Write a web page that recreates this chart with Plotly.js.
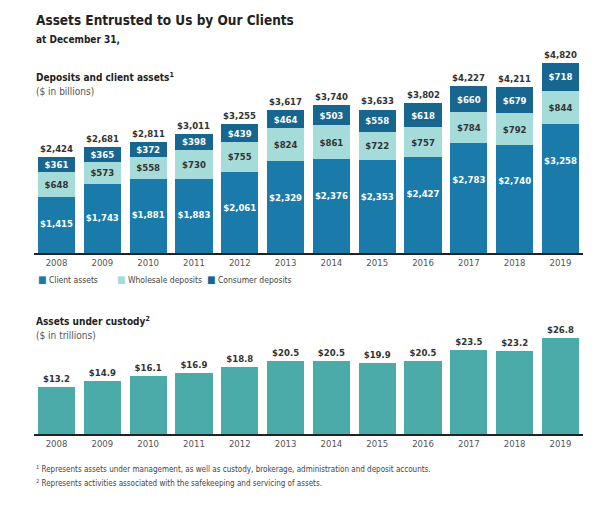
<!DOCTYPE html>
<html>
<head>
<meta charset="utf-8">
<script src="https://cdn.plot.ly/plotly-3.0.1.min.js"></script>
<style>html,body{margin:0;padding:0;background:#fff;}#chart{width:605px;height:508px;}</style>
</head>
<body>
<div id="chart"></div>
<script>
// ---- Data ----
const years = ['2008','2009','2010','2011','2012','2013','2014','2015','2016','2017','2018','2019'];
const clientAssets = [1415, 1743, 1881, 1883, 2061, 2329, 2376, 2353, 2427, 2783, 2740, 3258];
const wholesaleDeposits = [648, 573, 558, 730, 755, 824, 861, 722, 757, 784, 792, 844];
const consumerDeposits = [361, 365, 372, 398, 439, 464, 503, 558, 618, 660, 679, 718];
const totals = [2424, 2681, 2811, 3011, 3255, 3617, 3740, 3633, 3802, 4227, 4211, 4820];
const custody = [13.2, 14.9, 16.1, 16.9, 18.8, 20.5, 20.5, 19.9, 20.5, 23.5, 23.2, 26.8];
const seriesNames = ['Client assets', 'Wholesale deposits', 'Consumer deposits'];

// ---- Styles ----
const FONT = '"DejaVu Sans Condensed", "DejaVu Sans", sans-serif';
const C_CLIENT = '#1a7bab', C_WHOLE = '#a5dcd9', C_CONS = '#17668f', C_CUST = '#4aaba8';
const W = 605, H = 508;
const px = v => v / W;
const py = v => 1 - v / H;
const VAL = 9.5;

const fmtB = v => '$' + v.toLocaleString('en-US');
const fmtT = v => '$' + v.toFixed(1);

// client labels sit in the segment centre, but no lower than a fixed drop below the segment top
const LABEL_DROP = 940;
const clientLabelY = clientAssets.map(v => Math.max(v / 2, v - LABEL_DROP));

const traces = [
  {type:'bar', name:seriesNames[0], x:years, y:clientAssets, marker:{color:C_CLIENT},
   xaxis:'x', yaxis:'y', showlegend:false},
  {type:'bar', name:seriesNames[1], x:years, y:wholesaleDeposits, marker:{color:C_WHOLE},
   text:wholesaleDeposits.map(fmtB), textposition:'inside', insidetextanchor:'middle', constraintext:'none',
   textfont:{family:FONT, size:VAL, color:'#333', weight:'bold'}, xaxis:'x', yaxis:'y', showlegend:false},
  {type:'bar', name:seriesNames[2], x:years, y:consumerDeposits, marker:{color:C_CONS},
   text:consumerDeposits.map(fmtB), textposition:'inside', insidetextanchor:'middle', constraintext:'none',
   textfont:{family:FONT, size:VAL, color:'#fff', weight:'bold'}, xaxis:'x', yaxis:'y', showlegend:false},
  {type:'scatter', mode:'text', x:years, y:clientLabelY, text:clientAssets.map(fmtB),
   textposition:'middle center', textfont:{family:FONT, size:VAL, color:'#fff', weight:'bold'},
   xaxis:'x', yaxis:'y', showlegend:false, hoverinfo:'skip'},
  {type:'bar', name:'Assets under custody', x:years, y:custody, marker:{color:C_CUST},
   text:custody.map(fmtT), textposition:'outside', constraintext:'none', cliponaxis:false,
   textfont:{family:FONT, size:VAL, color:'#333', weight:'bold'}, xaxis:'x2', yaxis:'y2', showlegend:false}
];

const annotations = [];
// totals above stacked bars (category index used as x position)
years.forEach((yr, i) => {
  annotations.push({xref:'x', yref:'y', x:i, y:totals[i], text:fmtB(totals[i]), showarrow:false,
    yanchor:'bottom', yshift:1, font:{family:FONT, size:VAL, color:'#333', weight:'bold'}});
});
const header = (text, x, y, size, color, weight) => annotations.push({
  xref:'paper', yref:'paper', x:px(x), y:py(y), xanchor:'left', yanchor:'middle', showarrow:false,
  text:text, font:{family:FONT, size:size, color:color, weight:weight}});
header('Assets Entrusted to Us by Our Clients', 34, 20, 13.5, '#222', 'bold');
header('at December 31,', 34, 40, 10, '#222', 'bold');
header('Deposits and client assets<sup>1</sup>', 34, 77, 10, '#222', 'bold');
header('($ in billions)', 34, 91, 10, '#555', 'normal');
header('Assets under custody<sup>2</sup>', 34, 321, 10, '#222', 'bold');
header('($ in trillions)', 34, 335, 10, '#555', 'normal');
header('<sup>1</sup> Represents assets under management, as well as custody, brokerage, administration and deposit accounts.', 34, 469, 8, '#444', 'normal');
header('<sup>2</sup> Represents activities associated with the safekeeping and servicing of assets.', 34, 483, 8, '#444', 'normal');

// legend (manual, tight spacing as in the reference)
const legendColors = [C_CLIENT, C_WHOLE, C_CONS];
const legendX = [36, 115, 205];
seriesNames.forEach((n, i) => header('<span style="color:' + legendColors[i] + ';font-size:10px">■</span> ' + n,
  legendX[i], 279, 8.5, '#444', 'normal'));

const xdom = [px(33.6), px(583.4)];
const xaxisBase = {type:'category', showline:true, linecolor:'#222', linewidth:2, ticks:'', showgrid:false,
  zeroline:false, tickfont:{family:FONT, size:9.5, color:'#555'}, fixedrange:true};
const yaxisBase = {visible:false, showgrid:false, zeroline:false, fixedrange:true};

const layout = {
  width:W, height:H, margin:{l:0, r:0, t:0, b:0}, paper_bgcolor:'#fff', plot_bgcolor:'#fff',
  barmode:'stack', bargap:0.19, showlegend:false, font:{family:FONT},
  xaxis:Object.assign({}, xaxisBase, {domain:xdom, anchor:'y', range:[-0.5, 11.5]}),
  yaxis:Object.assign({}, yaxisBase, {domain:[py(253), py(45)], range:[0, 5266]}),
  xaxis2:Object.assign({}, xaxisBase, {domain:xdom, anchor:'y2', range:[-0.5, 11.5]}),
  yaxis2:Object.assign({}, yaxisBase, {domain:[py(434), py(320)], range:[0, 31.8]}),
  annotations:annotations
};

Plotly.newPlot('chart', traces, layout, {displayModeBar:false, staticPlot:true});
</script>
</body>
</html>
